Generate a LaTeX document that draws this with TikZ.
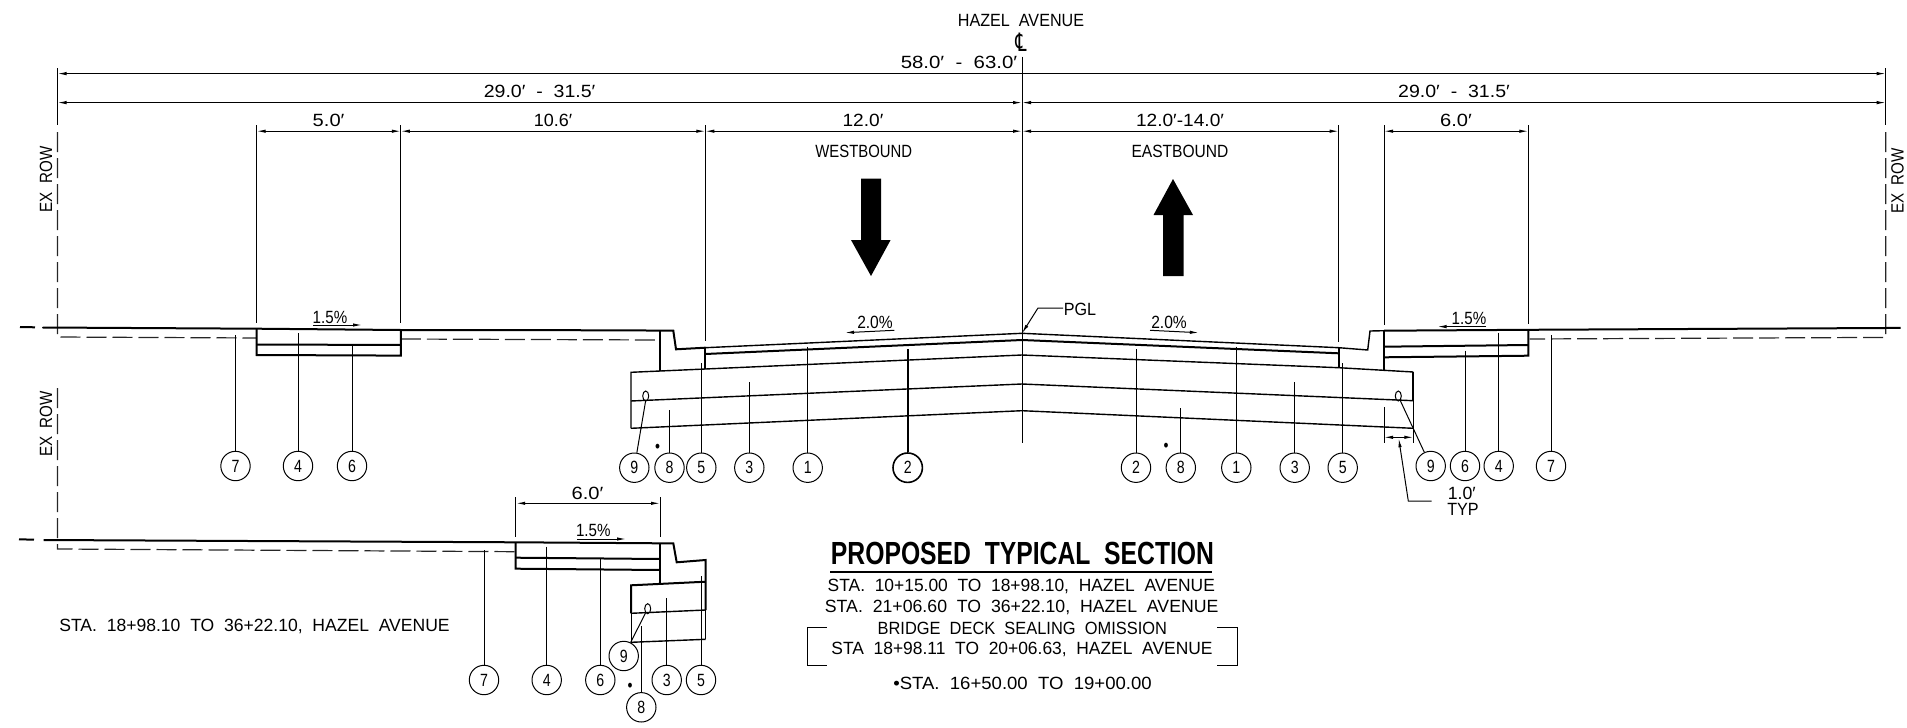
\documentclass[tikz,border=0pt]{standalone}
\usepackage{fontspec}
\usepackage{graphicx}
\setmainfont[FakeStretch=0.8,WordSpace=2]{Liberation Sans}
\newfontfamily\symfont{DejaVu Sans}
\newfontfamily\ttlfont[FakeStretch=0.78,WordSpace=2]{Liberation Sans}
\usetikzlibrary{arrows.meta}
\newcommand{\sx}[2]{\scalebox{#1}[1]{#2}}
\tikzset{
  thin line/.style={line width=0.5pt,black},
  thick line/.style={line width=1pt,black},
  dim line/.style={line width=0.5pt,black,{Latex[length=4.5pt,width=1.7pt]}-{Latex[length=4.5pt,width=1.7pt]}},
  slope line/.style={line width=0.5pt,black,-{Latex[length=4.5pt,width=1.7pt]}},
  row dash/.style={line width=0.6pt,black!85,dash pattern=on 10pt off 3pt},
  txt/.style={inner sep=0pt,font=\fontsize{8.85}{10}\selectfont,text=black},
  num/.style={draw,circle,line width=0.5pt,minimum size=14.7pt,inner sep=0pt,font=\fontsize{8.85}{10}\selectfont},
  bignum/.style={num,line width=0.8pt},
  lead/.style={line width=0.5pt,black},
  biglead/.style={line width=0.8pt,black},
  ttl/.style={inner sep=0pt,font=\ttlfont\bfseries\fontsize{16}{18}\selectfont},
}
\begin{document}
\begin{tikzpicture}[x=0.5pt,y=-0.5pt]
\useasboundingbox (0,0) rectangle (1907,728);
% ---- named points
\coordinate (RLt) at (57.5,68);   \coordinate (RLs) at (57.5,125);
\coordinate (RRt) at (1885.7,68); \coordinate (RRs) at (1885.7,125);
\coordinate (D1L) at (57.5,73.6);  \coordinate (D1R) at (1885.7,73.6);
\coordinate (D2L) at (57.5,102.6); \coordinate (D2C) at (1022,102.6); \coordinate (D2R) at (1885.7,102.6);
\coordinate (D3a) at (256.7,131.2); \coordinate (D3b) at (400.8,131.2); \coordinate (D3c) at (705.3,131.2);
\coordinate (D3d) at (1022,131.2); \coordinate (D3e) at (1338.7,131.2); \coordinate (D3f) at (1384,131.2); \coordinate (D3g) at (1528.3,131.2);
% ---- right of way
\draw[thin line] (RLt) -- (RLs);
\draw[thin line] (RRt) -- (RRs);
\draw[row dash] (57.5,132) -- (57.5,337) -- (256.7,338);
\draw[row dash] (400.8,339) -- (660,340);
\draw[row dash] (1885.7,132) -- (1885.7,337.4) -- (1529.5,339);
\draw[row dash] (57.5,388) -- (57.5,549) -- (515.7,551.7);
% ---- dimensions
\draw[dim line] (D1L) -- (D1R);
\draw[dim line] (D2L) -- (D2C);
\draw[dim line] (D2C) -- (D2R);
\draw[dim line] (D3a) -- (D3b);
\draw[dim line] (D3b) -- (D3c);
\draw[dim line] (D3c) -- (D3d);
\draw[dim line] (D3d) -- (D3e);
\draw[dim line] (D3f) -- (D3g);
\draw[thin line] (256.7,125.3) -- (256.7,322.7);
\draw[thin line] (400.8,125.3) -- (400.8,322.7);
\draw[thin line] (705.3,125.3) -- (705.3,341);
\draw[thin line] (1338.7,125.3) -- (1338.7,341.7);
\draw[thin line] (1384,125.3) -- (1384,325);
\draw[thin line] (1528.3,125.3) -- (1528.3,324);
\draw[thin line] (1022,56.7) -- (1022,443);
% ---- labels top
\node[txt] (hazel) at (1021,20.7) {\sx{1.14}{HAZEL AVENUE}};
\node[txt,font=\symfont\fontsize{11}{12}\selectfont] (cl) at (1021,42) {\scalebox{0.8}[1.15]{℄}};
\node[txt] (d58) at (959,62) {\sx{1.44}{58.0′ - 63.0′}};
\node[txt] (d29l) at (539.6,91) {\sx{1.38}{29.0′ - 31.5′}};
\node[txt] (d29r) at (1454,91) {\sx{1.38}{29.0′ - 31.5′}};
\node[txt] (d5) at (328.6,120) {\sx{1.42}{5.0′}};
\node[txt] (d106) at (553,120) {\sx{1.27}{10.6′}};
\node[txt] (d12) at (863,120) {\sx{1.35}{12.0′}};
\node[txt] (d1214) at (1180,120) {\sx{1.35}{12.0′-14.0′}};
\node[txt] (d6) at (1456,120) {\sx{1.42}{6.0′}};
\node[txt] (west) at (863.7,151.7) {\sx{1.05}{WESTBOUND}};
\node[txt] (east) at (1180,151.7) {\sx{1.1}{EASTBOUND}};
\node[txt,rotate=90] (rowa) at (46,179.5) {\sx{1.07}{EX ROW}};
\node[txt,rotate=90] (rowb) at (46,424) {\sx{1.07}{EX ROW}};
\node[txt,rotate=90] (rowc) at (1897.6,181) {\sx{1.07}{EX ROW}};
% ---- direction arrows
\fill[black] (861,178.7) -- (881,178.7) -- (881,240) -- (890.6,240) -- (871,276) -- (851,240) -- (861,240) -- cycle;
\fill[black] (1173,179) -- (1193,215) -- (1183.7,215) -- (1183.7,276) -- (1163,276) -- (1163,215) -- (1153.5,215) -- cycle;
% ---- main section
\draw[thick line,line cap=round] (43,327.5) -- (256.7,328.7) -- (400.8,330) -- (620,330.3) -- (673.3,330.7) -- (676,349.3) -- (705.3,347.7);
\draw[thick line] (20,327) -- (35,327.3);
\draw[line width=0.7pt] (705.3,347.7) -- (1022,333.3) -- (1338.7,347.7) -- (1367.7,350) -- (1370,331) -- (1384,330.7);
\draw[thick line] (1384,330.7) -- (1528.3,329.8) -- (1885.7,328) -- (1900.5,327.8);
\draw[thick line] (705.3,354) -- (1022,340) -- (1338.7,353.3);
\draw[thick line] (660,330.7) -- (660,370.7);
\draw[thick line] (705.3,347.7) -- (705.3,369);
\draw[thick line] (1338.7,347.7) -- (1338.7,367.7);
\draw[thick line] (1384,330.7) -- (1384,370.7);
\draw[line width=0.7pt] (631,428.3) -- (631,372.3) -- (705.3,369) -- (1022,355) -- (1338.7,367.7) -- (1413.3,372);
\draw[thick line] (1413.3,372) -- (1413.3,400.7);
\draw[thin line] (1413.3,400.7) -- (1413.3,428.3);
\draw[line width=0.7pt] (631,401) -- (1022,384) -- (1413.3,400.7);
\draw[line width=0.7pt] (631,428.3) -- (1022,410.7) -- (1413.3,428.3);
% walks main
\draw[thick line] (256.7,329) -- (256.7,355) -- (400.8,355.6) -- (400.8,330);
\draw[thick line] (256.7,344.5) -- (400.8,345);
\draw[thick line] (1384,346.7) -- (1528.3,345);
\draw[thick line] (1384,357.3) -- (1528.3,355.7) -- (1528.3,329.8);
\draw[thin line] (645.7,396) ellipse (3 and 5);
\draw[thin line] (1398.3,396) ellipse (3 and 5);
% slopes
\node[txt] (s15a) at (330,317) {\sx{1.07}{1.5\%}};
\draw[slope line] (313,325) -- (362,325);
\node[txt] (s20a) at (875,322.7) {\sx{1.1}{2.0\%}};
\draw[slope line] (894.3,330.3) -- (845,332.7);
\node[txt] (s20b) at (1169,322) {\sx{1.1}{2.0\%}};
\draw[slope line] (1150,330.3) -- (1198.8,332.7);
\node[txt] (s15b) at (1469,318) {\sx{1.07}{1.5\%}};
\draw[slope line] (1486,326.6) -- (1437.5,326.6);
\node[txt] (pgl) at (1080,309) {\sx{1.14}{PGL}};
\coordinate (pglp) at (1022,333.3); \coordinate (pglk) at (1038,308); \coordinate (pgle) at (1063,308);
\draw[slope line] (pgle) -- (pglk) -- (pglp);
% callouts main
\foreach \id/\t/\x/\y/\ty in {
 a7/7/235.5/466/335, a4/4/298/466/333, a6/6/352/466/345,
 b8/8/669.5/467.7/410, b5/5/701.3/467.7/363.3, b3/3/749.3/467.7/382, b1/1/807.7/467.7/346.7,
 c2/2/1136/467.7/349, c8/8/1180.8/467.7/408.3, c1/1/1236.3/467.7/346.7, c3/3/1294.7/467.7/382, c5/5/1342.7/467.7/363.3,
 d6n/6/1465/466/350.7, d4/4/1498.7/466/332.7, d7/7/1551/466/335,
 e7/7/484/680/550, e4/4/546.7/680/546.7, e6/6/600.3/680/559, e3/3/666.7/680/598, e5/5/701/680/576, e8/8/641.3/707.3/626.3}{
  \node[num] (\id) at (\x,\y) {\t};
  \coordinate (\id t) at (\x,\ty);
  \draw[lead] (\id t) -- (\id);
}
\node[bignum] (b2) at (907.7,467.7) {2};
\coordinate (b2t) at (907.7,349);
\draw[biglead] (b2t) -- (b2);
\node[num] (b9) at (634.3,467.7) {9};
\coordinate (b9t) at (645.7,400.5);
\draw[lead] (b9t) -- (b9);
\node[num] (d9) at (1430.7,466) {9};
\coordinate (d9t) at (1400,400);
\draw[lead] (d9t) -- (d9);
\node[num] (e9) at (623.7,656) {9};
\coordinate (e9t) at (645.7,612.7);
\draw[lead] (e9t) -- (e9);
\node[txt] (st1) at (657.7,448) {•};
\node[txt] (st2) at (1166,447.7) {•};
\node[txt] (st3) at (630,687.7) {•};
% 1.0' dim
\coordinate (t1a) at (1384,437.3); \coordinate (t1b) at (1413.3,437.3);
\draw[thin line] (1384,407.3) -- (1384,443.3);
\draw[thin line] (1413.3,428.3) -- (1413.3,443.3);
\draw[dim line] (t1a) -- (t1b);
\coordinate (t1p) at (1398.7,438.3); \coordinate (t1k) at (1408.3,501); \coordinate (t1e) at (1431.7,501);
\draw[slope line] (t1e) -- (t1k) -- (t1p);
\node[txt] (t10) at (1461.7,493.3) {\sx{1.25}{1.0′}};
\node[txt] (t1y) at (1463,509) {\sx{1.14}{TYP}};
% ---- lower section
\coordinate (L3a) at (516.2,503.3); \coordinate (L3b) at (660,503.3);
\draw[dim line] (L3a) -- (L3b);
\draw[thin line] (515.7,497) -- (515.7,536.7);
\draw[thin line] (660,497) -- (660,536.7);
\node[txt] (l6) at (587.5,493.3) {\sx{1.42}{6.0′}};
\node[txt] (l15) at (593.3,530) {\sx{1.07}{1.5\%}};
\draw[slope line] (577.3,539) -- (626,539);
\draw[thick line] (19,539.3) -- (34,539.7);
\draw[thick line] (43.6,540) -- (515.7,542.3) -- (660,543.3) -- (673.3,543.3) -- (676.7,562.3) -- (705.7,560) -- (705.7,610);
\draw[thin line] (705.7,610) -- (705.7,639.3);
\draw[thick line] (515.7,542.3) -- (515.7,568.7) -- (660,570);
\draw[thick line] (515.7,557.7) -- (660,559);
\draw[thick line] (660,543.3) -- (660,582.7);
\draw[thick line] (631,613.3) -- (631,585.3) -- (705.7,581.7);
\draw[line width=0.7pt] (631,613.3) -- (705.7,610);
\draw[thin line] (631,613.3) -- (631,642.3);
\draw[line width=0.7pt] (631,642.3) -- (705.7,639.3);
\draw[thin line] (647.7,608.7) ellipse (3 and 5);
\node[txt] (lsta) at (254.5,626.7) {\sx{1.24}{STA. 18+98.10 TO 36+22.10, HAZEL AVENUE}};
% ---- title block
\node[ttl] (title) at (1022.5,553.3) {\sx{0.99}{PROPOSED TYPICAL SECTION}};
\coordinate (trl) at (830.3,572); \coordinate (trr) at (1212.3,572);
\draw[line width=0.7pt] (trl) -- (trr);
\node[txt] (ln1) at (1021.3,586.7) {\sx{1.23}{STA. 10+15.00 TO 18+98.10, HAZEL AVENUE}};
\node[txt] (ln2) at (1021.7,607.7) {\sx{1.25}{STA. 21+06.60 TO 36+22.10, HAZEL AVENUE}};
\node[txt] (ln3) at (1022.3,628.3) {\sx{1.16}{BRIDGE DECK SEALING OMISSION}};
\node[txt] (ln4) at (1022,649) {\sx{1.23}{STA 18+98.11 TO 20+06.63, HAZEL AVENUE}};
\node[txt] (ln5) at (1022.5,683.3) {\sx{1.31}{•STA. 16+50.00 TO 19+00.00}};
\draw[thin line] (826.7,627) -- (807,627) -- (807,665.7) -- (826.7,665.7);
\draw[thin line] (1217.3,627) -- (1237,627) -- (1237,665.7) -- (1217.3,665.7);
\end{tikzpicture}
\end{document}
